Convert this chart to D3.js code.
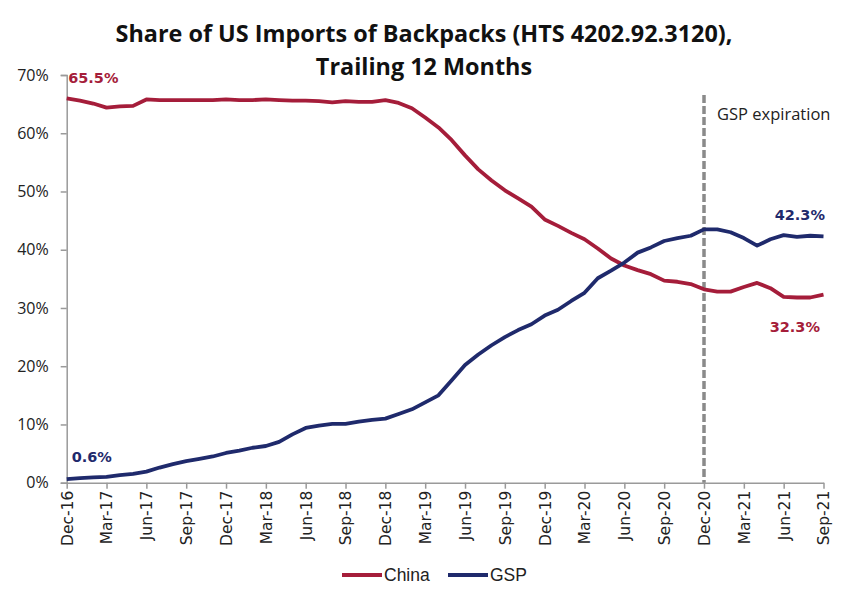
<!DOCTYPE html>
<html><head><meta charset="utf-8">
<script src="https://cdn.jsdelivr.net/npm/d3@7"></script>
<style>body{margin:0;background:#fff}svg{display:block}</style>
</head><body><svg id="c" width="848" height="602"></svg>
<script>
const months = ["Dec-16","Jan-17","Feb-17","Mar-17","Apr-17","May-17","Jun-17","Jul-17","Aug-17","Sep-17","Oct-17","Nov-17",
"Dec-17","Jan-18","Feb-18","Mar-18","Apr-18","May-18","Jun-18","Jul-18","Aug-18","Sep-18","Oct-18","Nov-18",
"Dec-18","Jan-19","Feb-19","Mar-19","Apr-19","May-19","Jun-19","Jul-19","Aug-19","Sep-19","Oct-19","Nov-19",
"Dec-19","Jan-20","Feb-20","Mar-20","Apr-20","May-20","Jun-20","Jul-20","Aug-20","Sep-20","Oct-20","Nov-20",
"Dec-20","Jan-21","Feb-21","Mar-21","Apr-21","May-21","Jun-21","Jul-21","Aug-21","Sep-21"];
const china = [66.0,65.6,65.1,64.4,64.6,64.7,65.8,65.7,65.7,65.7,65.7,65.7,
65.8,65.7,65.7,65.8,65.7,65.6,65.6,65.5,65.3,65.5,65.4,65.4,
65.7,65.2,64.3,62.7,61.0,58.8,56.2,53.8,51.9,50.2,48.8,47.4,
45.2,44.1,42.9,41.8,40.2,38.5,37.3,36.5,35.8,34.7,34.5,34.1,
33.2,32.8,32.8,33.6,34.3,33.4,31.9,31.8,31.8,32.3];
const gsp = [0.6,0.8,0.9,1.0,1.3,1.5,1.9,2.6,3.2,3.7,4.1,4.5,
5.1,5.5,6.0,6.3,7.0,8.3,9.4,9.8,10.1,10.1,10.5,10.8,
11.0,11.8,12.6,13.8,15.0,17.6,20.2,22.0,23.6,25.0,26.2,27.2,
28.7,29.7,31.2,32.6,35.1,36.4,37.8,39.5,40.4,41.5,42.0,42.4,
43.5,43.5,43.0,42.0,40.7,41.8,42.5,42.2,42.4,42.3];
const xTickLabels = ["Dec-16","Mar-17","Jun-17","Sep-17","Dec-17","Mar-18","Jun-18","Sep-18","Dec-18","Mar-19","Jun-19","Sep-19","Dec-19","Mar-20","Jun-20","Sep-20","Dec-20","Mar-21","Jun-21","Sep-21"];
const yTicks = [0,10,20,30,40,50,60,70];
const seriesNames = ["China","GSP"];
const titleLines = ["Share of US Imports of Backpacks (HTS 4202.92.3120),","Trailing 12 Months"];
const eventMonth = "Dec-20";
const eventLabel = "GSP expiration";
const endLabels = {chinaStart:"65.5%", gspStart:"0.6%", chinaEnd:"32.3%", gspEnd:"42.3%"};

const colors = {China:"#a51d3a", GSP:"#1f2a6c"};
const svg = d3.select("#c");
const mLeft = 66.7, mRight = 823.5, mTop = 75, mBottom = 482.7;
const x = d3.scalePoint().domain(months).range([mLeft, mRight]);
const y = d3.scaleLinear().domain([0,70]).range([mBottom, mTop]);

// title
svg.append("g").selectAll("text").data(titleLines).join("text")
  .attr("x", 424).attr("y", (d,i)=>42+i*32.5)
  .attr("text-anchor","middle").attr("font-family","'Open Sans', sans-serif")
  .attr("font-weight","bold").attr("font-size",23.4).attr("fill","#111")
  .text(d=>d);

// y axis
const yAxis = svg.append("g").attr("transform",`translate(${mLeft},0)`)
  .call(d3.axisLeft(y).tickValues(yTicks).tickFormat(d=>d+"%").tickSize(6).tickPadding(12));
yAxis.select(".domain").attr("stroke","#9a9a9a").attr("stroke-width",1.5);
yAxis.selectAll(".tick line").attr("stroke","#9a9a9a").attr("stroke-width",1.5);
yAxis.selectAll("text").attr("font-family","'Open Sans', sans-serif").attr("font-size",16).attr("fill","#222");

// x axis
const xAxis = svg.append("g").attr("transform",`translate(0,${mBottom})`)
  .call(d3.axisBottom(x).tickValues(xTickLabels).tickSize(6).tickSizeOuter(0));
xAxis.select(".domain").attr("stroke","#9a9a9a").attr("stroke-width",1.5);
xAxis.selectAll(".tick line").attr("stroke","#9a9a9a").attr("stroke-width",1.5);
xAxis.selectAll("text").attr("font-family","'DejaVu Sans', sans-serif").attr("font-size",15.5).attr("fill","#222")
  .attr("transform","rotate(-90)").attr("text-anchor","end").attr("dy","0.35em").attr("x",-8).attr("y",0);

// event line
svg.append("line").attr("x1",x(eventMonth)).attr("x2",x(eventMonth)).attr("y1",95).attr("y2",mBottom)
  .attr("stroke","#8a8a8a").attr("stroke-width",3.5).attr("stroke-dasharray","8,3");
svg.append("text").attr("x",x(eventMonth)+13).attr("y",120).attr("font-family","'Open Sans', sans-serif")
  .attr("font-size",16.5).attr("fill","#222").text(eventLabel);

// lines
const line = d3.line().x((d,i)=>x(months[i])).y(d=>y(d));
[["China",china],["GSP",gsp]].forEach(([n,vals])=>{
  svg.append("path").datum(vals).attr("d",line).attr("fill","none")
    .attr("stroke",colors[n]).attr("stroke-width",3.8).attr("stroke-linejoin","round");
});

// value labels
const lbl = (t,xx,yy,c,anchor)=>svg.append("text").attr("x",xx).attr("y",yy).attr("text-anchor",anchor)
  .attr("font-family","'DejaVu Sans', sans-serif").attr("font-weight","bold").attr("font-size",14.5).attr("fill",c).text(t);
lbl(endLabels.chinaStart, x(months[0])+1.5, 82.7, colors.China, "start");
lbl(endLabels.gspStart, x(months[0])+5, 461.7, colors.GSP, "start");
lbl(endLabels.gspEnd, x(months[months.length-1])+1.5, 220, colors.GSP, "end");
lbl(endLabels.chinaEnd, x(months[months.length-1])-3.5, 331.7, colors.China, "end");

// legend
const lg = svg.append("g");
const lx = [342, 448];
seriesNames.forEach((n,i)=>{
  lg.append("line").attr("x1",lx[i]).attr("x2",lx[i]+40).attr("y1",575).attr("y2",575)
    .attr("stroke",colors[n]).attr("stroke-width",3.8);
  lg.append("text").attr("x",lx[i]+42).attr("y",581).attr("font-family","'Liberation Sans Narrow', sans-serif")
    .attr("font-size",17.5).attr("fill","#222").text(n);
});
</script></body></html>
